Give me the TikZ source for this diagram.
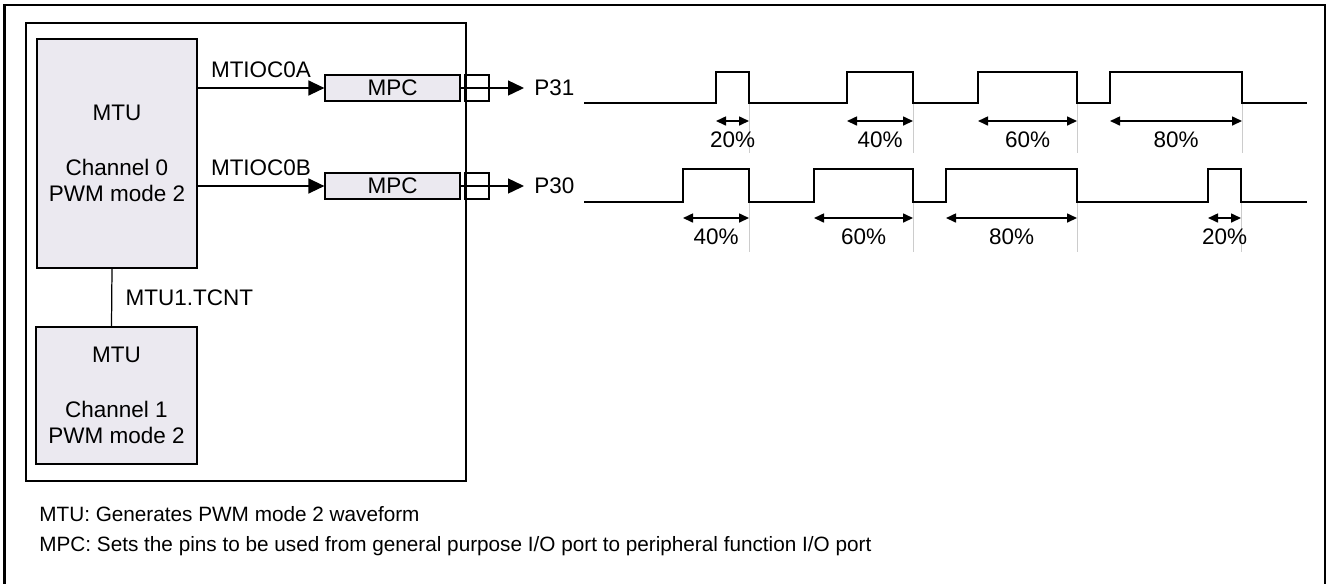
\documentclass[tikz,border=0pt]{standalone}
\usepackage{fontspec}
\setmainfont{Liberation Sans}
\usetikzlibrary{arrows.meta}
\definecolor{boxfill}{RGB}{235,233,240}

\begin{document}
\begin{tikzpicture}[x=0.02cm,y=-0.02cm,font=\fontsize{12.8}{14.7}\selectfont]
    \tikzstyle{block}=[draw=black,fill=boxfill,line width=0.7pt,inner sep=0pt,align=center]
    \tikzstyle{pad}=[draw=black,line width=0.7pt,minimum width=0.48cm,minimum height=0.52cm,inner sep=0pt]
    \tikzstyle{sig}=[line width=0.8pt,-{Triangle[length=0.32cm,width=0.3cm]}]
    \tikzstyle{wave}=[line width=1pt]
    \tikzstyle{dim}=[line width=0.9pt,{Triangle[length=0.2cm,width=0.18cm]}-{Triangle[length=0.2cm,width=0.18cm]}]
    \tikzstyle{guide}=[draw=black!20,line width=0.5pt]
    \tikzstyle{note}=[anchor=base west,inner sep=0pt,font=\fontsize{11.8}{14}\selectfont]

    \useasboundingbox (0,0) rectangle (1328,583);
    \draw[line width=1.2pt] (4.5,600) -- (4.5,5) -- (1325,5) -- (1325,600);
    \draw[line width=0.7pt] (26,23) rectangle (466,481);

    \node[block,minimum width=3.2cm,minimum height=4.58cm] (MTU-0) at (117,153.5) {MTU\\[0.58cm]Channel 0\\PWM mode 2};
    \node[block,minimum width=3.22cm,minimum height=2.74cm] (MTU-1) at (116.5,395.5) {MTU\\[0.58cm]Channel 1\\PWM mode 2};

    \foreach \ch/\y/\pin in {A/88/31, B/186/30} {
        \node[block,minimum width=2.7cm,minimum height=0.52cm] (MPC-\ch) at (392.5,\y) {MPC};
        \node[pad] (pad-\ch) at (477,\y) {};
        \node[anchor=west,inner xsep=0.2cm] (P-\pin) at (524,\y) {P\pin};
        \draw[sig] (MTU-0.east |- MPC-\ch.west) -- (MPC-\ch.west) node[midway,above=2pt] {MTIOC0\ch};
        \draw[sig] (MPC-\ch.east) -- (P-\pin.west);
    }

    \draw[line width=0.7pt] ([xshift=-0.1cm]MTU-0.south) -- ([xshift=-0.1cm]MTU-1.north) node[midway,right=0.15cm] {MTU1.TCNT};

    % P31
    \foreach \r/\f/\p in {716/749/20, 847/913/40, 978/1077/60, 1110/1242/80} {
        \draw[guide] (\f,103) -- (\f,153);
        \draw[dim] (\r,121) -- (\f,121) node[midway,below=2.5pt] {\p\%};
    }
    \draw[wave] (584,103) foreach \r/\f in {716/749, 847/913, 978/1077, 1110/1242} { -- (\r,103) -- (\r,72) -- (\f,72) -- (\f,103) } -- (1307,103);

    % P30
    \foreach \r/\f/\p in {683/749/40, 814/913/60, 946/1077/80, 1208/1241/20} {
        \draw[guide] (\f,202) -- (\f,252);
        \draw[dim] (\r,218) -- (\f,218) node[midway,below=2.5pt] {\p\%};
    }
    \draw[wave] (584,202) foreach \r/\f in {683/749, 814/913, 946/1077, 1208/1241} { -- (\r,202) -- (\r,169) -- (\f,169) -- (\f,202) } -- (1307,202);

    \node[note] (note-MTU) at (39,521.5) {MTU: Generates PWM mode 2 waveform};
    \node[note] (note-MPC) at (39,551.5) {MPC: Sets the pins to be used from general purpose I/O port to peripheral function I/O port};
\end{tikzpicture}
\end{document}
